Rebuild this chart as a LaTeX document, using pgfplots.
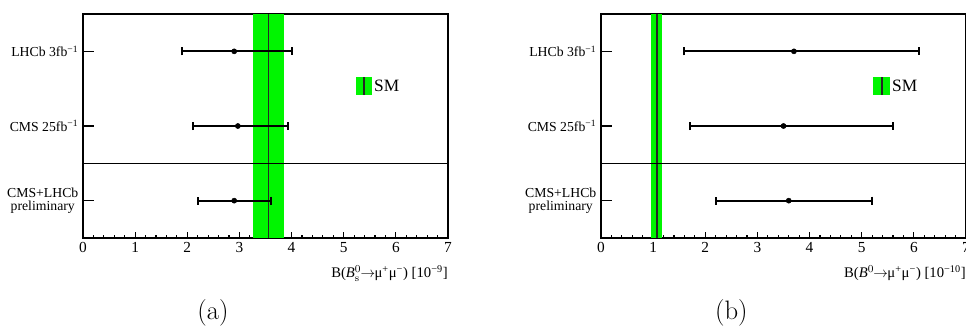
\documentclass[border=0pt]{standalone}
\usepackage{fontspec}
\usepackage{pgfplots}
\pgfplotsset{compat=1.18}
\newfontfamily\timesf{Liberation Serif}
\definecolor{smgreen}{RGB}{0,245,0}

\pgfplotsset{
 panel/.style={
  scale only axis, width=273.75pt, height=168pt,
  xmin=0, xmax=7, ymin=0, ymax=3,
  axis line style={line width=1.3pt},
  xtick={0,1,2,3,4,5,6,7}, minor x tick num=4, xtick pos=bottom, tick align=inside,
  major tick length=4.5pt, minor tick length=2.3pt,
  x tick style={line width=0.9pt, black},
  ytick={0.5,1.5,2.5},
  yticklabels={{CMS+LHCb\\preliminary},{CMS 25fb\textsuperscript{−1}},{LHCb 3fb\textsuperscript{−1}}},
  ytick style={draw=none}, ytick pos=left,
  yticklabel style={font=\timesf\fontsize{10.3}{9.2}\selectfont, align=center},
  xticklabel style={font=\timesf\fontsize{11.5}{13}\selectfont},
  /pgf/number format/assume math mode=true,
  xlabel style={at={(rel axis cs:1,0)}, anchor=north east, font=\timesf\fontsize{11}{12}\selectfont, yshift=-20.5pt, inner sep=0pt},
 },
 meas/.style={black, only marks, mark=*, mark size=1.9pt,
  error bars/.cd, x dir=both, x explicit, error mark=|,
  error bar style={line width=1.7pt},
  error mark options={black, line width=1.5pt, mark size=3pt}},
}

\begin{document}
\begin{tikzpicture}
\useasboundingbox (0,0) rectangle (724.5pt,-246.75pt);

% ---------- (a) ----------
\begin{axis}[panel, at={(62.25pt,-178.5pt)}, anchor=south west,
  xlabel={B(\textit{B}$^{0}_{\mathrm{s}}$\kern-0.5pt$\rightarrow$\kern-0.5pt μ\textsuperscript{+}μ\textsuperscript{−}) [10\textsuperscript{−9}]}]
\addplot[fill=smgreen, draw=none] coordinates {(3.26,0) (3.26,3) (3.86,3) (3.86,0)} -- cycle;
\addplot[black!85, line width=1.1pt] coordinates {(3.56,0) (3.56,3)};
\addplot[black, line width=0.7pt] coordinates {(0,1) (7,1)};
\addplot[black, line width=1pt] coordinates {(0,0.5) (0.21,0.5)};
\addplot[black, line width=1pt] coordinates {(0,1.5) (0.21,1.5)};
\addplot[black, line width=1pt] coordinates {(0,2.5) (0.21,2.5)};
% legend
\addplot[fill=smgreen, draw=none] coordinates {(5.23,1.92) (5.23,2.15) (5.54,2.15) (5.54,1.92)} -- cycle;
\addplot[black!85, line width=1.5pt] coordinates {(5.38,1.92) (5.38,2.15)};
\node[anchor=west, font=\timesf\fontsize{13}{15}\selectfont, inner sep=0pt] at (axis cs:5.58,2.035) {SM};
\addplot[meas] coordinates {
 (2.9,2.5) += (1.1,0) -= (1.0,0)
 (2.97,1.5) += (0.97,0) -= (0.87,0)
 (2.9,0.5) += (0.7,0) -= (0.7,0)
};
\end{axis}

% ---------- (b) ----------
\begin{axis}[panel, at={(450.75pt,-178.5pt)}, anchor=south west,
  xlabel={B(\textit{B}$^{0}$\kern-0.5pt$\rightarrow$\kern-0.5pt μ\textsuperscript{+}μ\textsuperscript{−}) [10\textsuperscript{−10}]}]
\addplot[fill=smgreen, draw=none] coordinates {(0.96,0) (0.96,3) (1.17,3) (1.17,0)} -- cycle;
\addplot[black!85, line width=1.1pt] coordinates {(1.07,0) (1.07,3)};
\addplot[black, line width=0.7pt] coordinates {(0,1) (7,1)};
\addplot[black, line width=1pt] coordinates {(0,0.5) (0.21,0.5)};
\addplot[black, line width=1pt] coordinates {(0,1.5) (0.21,1.5)};
\addplot[black, line width=1pt] coordinates {(0,2.5) (0.21,2.5)};
% legend
\addplot[fill=smgreen, draw=none] coordinates {(5.22,1.92) (5.22,2.15) (5.54,2.15) (5.54,1.92)} -- cycle;
\addplot[black!85, line width=1.5pt] coordinates {(5.38,1.92) (5.38,2.15)};
\node[anchor=west, font=\timesf\fontsize{13}{15}\selectfont, inner sep=0pt] at (axis cs:5.58,2.035) {SM};
\addplot[meas] coordinates {
 (3.7,2.5) += (2.4,0) -= (2.1,0)
 (3.5,1.5) += (2.1,0) -= (1.8,0)
 (3.6,0.5) += (1.6,0) -= (1.4,0)
};
\end{axis}

\node[font=\fontsize{20}{24}\selectfont] at (159.75pt,-235pt) {(a)};
\node[font=\fontsize{20}{24}\selectfont] at (548.5pt,-235pt) {(b)};
\end{tikzpicture}
\end{document}
